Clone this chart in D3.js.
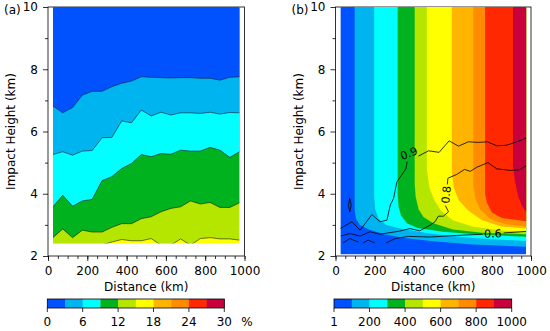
<!DOCTYPE html>
<html>
<head>
<meta charset="utf-8">
<script src="https://cdn.jsdelivr.net/npm/d3@7"></script>
<style>
body { margin: 0; background: #fff; }
text { font-family: "DejaVu Sans", sans-serif; fill: #000; }
</style>
</head>
<body>
<svg id="chart" width="550" height="331"></svg>
<script>
// Colour table shared by both panels (10 bins)
var binColors = ["#0052ff", "#00b4f0", "#00ffff", "#00b21e", "#b4e600",
                 "#ffff00", "#ffb400", "#ff8c00", "#ff2800", "#c8003c"];

// (a) percentage field: height (km) of each contour level at every distance column
var distances = [25, 75, 125, 175, 225, 275, 325, 375, 425, 475,
                 525, 575, 625, 675, 725, 775, 825, 875, 925, 975];
var pct3  = [6.82, 6.60, 6.77, 7.17, 7.29, 7.29, 7.44, 7.55, 7.62, 7.76, 7.74, 7.73, 7.72, 7.73, 7.73, 7.71, 7.71, 7.65, 7.74, 7.76];
var pct6  = [5.26, 5.35, 5.24, 5.37, 5.39, 5.80, 5.81, 6.34, 6.28, 6.69, 6.50, 6.62, 6.53, 6.60, 6.60, 6.58, 6.62, 6.56, 6.61, 6.60];
var pct9  = [3.58, 3.95, 3.60, 3.77, 3.82, 4.42, 4.55, 4.81, 4.97, 5.26, 5.19, 5.29, 5.27, 5.40, 5.37, 5.37, 5.49, 5.40, 5.17, 5.35];
var pct12 = [2.59, 2.87, 2.59, 2.83, 2.77, 2.77, 2.92, 3.04, 3.04, 3.20, 3.26, 3.42, 3.53, 3.58, 3.77, 3.67, 3.72, 3.56, 3.56, 3.71];
var pct15 = [2.35, 2.35, 2.35, 2.35, 2.35, 2.35, 2.45, 2.53, 2.49, 2.49, 2.56, 2.35, 2.35, 2.55, 2.35, 2.56, 2.59, 2.55, 2.55, 2.51];
var pctLevels = [0, 3, 6, 9, 12, 15, 18, 21, 24, 27, 30];
var pctTicks = [0, 6, 12, 18, 24, 30];

// (b) count field: contour of each level as [distance, height] points
var count100 = [[98, 10], [98, 3.5], [105, 3.2], [125, 3.0], [170, 2.85], [250, 2.7], [350, 2.58], [500, 2.47], [700, 2.37], [975, 2.3]];
var count200 = [[198, 10], [198, 3.9], [203, 3.5], [220, 3.2], [260, 3.0], [330, 2.88], [480, 2.72], [700, 2.58], [975, 2.48]];
var count300 = [[318, 10], [318, 4.0], [322, 3.6], [335, 3.3], [365, 3.05], [420, 2.9], [550, 2.78], [750, 2.68], [975, 2.62]];
var count400 = [[405, 10], [405, 4.3], [410, 3.9], [425, 3.5], [450, 3.25], [500, 3.05], [600, 2.85], [750, 2.75], [975, 2.7]];
var count500 = [[467, 10], [467, 4.8], [480, 4.2], [505, 3.8], [540, 3.45], [600, 3.15], [700, 2.95], [850, 2.82], [975, 2.78]];
var count600 = [[595, 10], [595, 4.7], [605, 4.2], [630, 3.8], [680, 3.45], [750, 3.15], [850, 2.95], [975, 2.88]];
var count700 = [[705, 10], [705, 4.3], [715, 3.85], [740, 3.5], [790, 3.2], [870, 3.02], [975, 2.95]];
var count800 = [[765, 10], [765, 4.0], [775, 3.7], [800, 3.4], [850, 3.22], [975, 3.12]];
var count900 = [[908, 10], [908, 4.9], [918, 4.4], [935, 3.9], [955, 3.6], [975, 3.42]];
var countLevels = [1, 100, 200, 300, 400, 500, 600, 700, 800, 900, 1000];
var countTicks = [1, 200, 400, 600, 800, 1000];

// (b) black correlation contours
var corr09a = [[24, 2.88], [84, 3.10], [126, 2.83], [186, 3.33], [228, 3.10], [263, 3.15], [280, 3.63], [297, 3.85], [314, 4.38], [361, 4.81], [366, 5.03]];
var corr09b = [[424, 5.21], [476, 5.38], [530, 5.33], [581, 5.70], [629, 5.53], [680, 5.67], [731, 5.65], [777, 5.67], [825, 5.54], [876, 5.56], [927, 5.67], [975, 5.78]];
var corr08a = [[572, 4.30], [575, 4.50], [620, 4.62], [660, 4.78], [690, 4.72], [722, 4.85], [780, 5.0], [825, 4.80], [895, 4.75], [940, 4.77], [975, 4.90]];
var corr08b = [[562, 3.62], [578, 3.42], [552, 3.28], [526, 3.28], [509, 3.10], [484, 2.99], [431, 2.81], [380, 2.88], [329, 2.80], [227, 2.70], [176, 2.78], [125, 2.64], [74, 2.72], [26, 2.64]];
var corr06a = [[259, 2.42], [305, 2.56], [373, 2.63], [484, 2.61], [620, 2.66], [752, 2.70]];
var corr06b = [[860, 2.74], [975, 2.79]];
var corrSmall = [
    [[73, 3.85], [80, 3.63], [73, 3.42], [66, 3.63], [73, 3.85]],
    [[39, 2.42], [73, 2.56], [116, 2.45]],
    [[141, 2.42], [167, 2.51], [201, 2.42]]
];
var corrLabels = [
    {text: "0.9", d: 375, h: 5.30, angle: -20},
    {text: "0.8", d: 566, h: 3.97, angle: -85},
    {text: "0.6", d: 805, h: 2.72, angle: -2}
];

var svg = d3.select("#chart");

// Draws frame, ticks and labels for one panel and returns its scales
function drawAxes(x0, x1, tag, id) {
    var x = d3.scaleLinear().domain([0, 1000]).range([x0, x1]);
    var y = d3.scaleLinear().domain([2, 10]).range([256, 7]);
    var g = svg.append("g");

    var minorX = g.append("g").attr("transform", "translate(0,256)")
        .call(d3.axisBottom(x).tickValues(d3.range(0, 1001, 50)).tickSize(3).tickSizeOuter(0).tickFormat(""));
    var majorX = g.append("g").attr("transform", "translate(0,256)")
        .call(d3.axisBottom(x).tickValues(d3.range(0, 1001, 200)).tickSize(5).tickSizeOuter(0)
            .tickPadding(5).tickFormat(d3.format("d")));
    var minorY = g.append("g").attr("transform", "translate(" + x0 + ",0)")
        .call(d3.axisLeft(y).tickValues([3, 5, 7, 9]).tickSize(3).tickSizeOuter(0).tickFormat(""));
    var majorY = g.append("g").attr("transform", "translate(" + x0 + ",0)")
        .call(d3.axisLeft(y).tickValues([2, 4, 6, 8, 10]).tickSize(5).tickSizeOuter(0)
            .tickPadding(5).tickFormat(d3.format("d")));
    [minorX, majorX, minorY, majorY].forEach(function (a) {
        a.select(".domain").remove();
        a.selectAll("line").attr("stroke", "#000").attr("stroke-width", 0.8);
        a.selectAll("text").attr("font-size", "12px").attr("font-family", "DejaVu Sans, sans-serif").attr("fill", "#000");
    });

    g.append("rect")
        .attr("x", x0).attr("y", 7)
        .attr("width", x1 - x0).attr("height", 249)
        .attr("fill", "none").attr("stroke", "#000").attr("stroke-width", 0.8);

    g.append("text")
        .attr("x", (x0 + x1) / 2).attr("y", 291)
        .attr("text-anchor", "middle").attr("font-size", "12px")
        .text("Distance (km)");
    g.append("text")
        .attr("transform", "translate(" + (x0 - 33) + ",131.5) rotate(-90)")
        .attr("text-anchor", "middle").attr("font-size", "12px")
        .text("Impact Height (km)");
    g.append("text")
        .attr("x", x0 - 44).attr("y", 14)
        .attr("font-size", "12px")
        .text(tag);

    svg.append("clipPath").attr("id", id)
        .append("rect")
        .attr("x", x(25)).attr("width", x(975) - x(25))
        .attr("y", 7);
    return {x: x, y: y, g: g};
}

// Draws the discrete colour bar under a panel
function drawColorbar(cx0, cx1, levels, ticks, unit) {
    var c = d3.scaleLinear().domain([0, levels.length - 1]).range([cx0, cx1]);
    var g = svg.append("g");
    g.selectAll("rect.bin")
        .data(binColors)
        .enter().append("rect")
        .attr("class", "bin")
        .attr("x", function (d, i) { return c(i); })
        .attr("width", function (d, i) { return c(i + 1) - c(i) + 0.3; })
        .attr("y", 299).attr("height", 9)
        .attr("fill", function (d) { return d; });
    g.append("rect")
        .attr("x", cx0).attr("y", 299)
        .attr("width", cx1 - cx0).attr("height", 9)
        .attr("fill", "none").attr("stroke", "#000").attr("stroke-width", 0.8);
    var tickX = ticks.map(function (t) { return c(levels.indexOf(t)); });
    g.selectAll("line.cbt")
        .data(tickX)
        .enter().append("line")
        .attr("x1", function (d) { return d; }).attr("x2", function (d) { return d; })
        .attr("y1", 308).attr("y2", 312)
        .attr("stroke", "#000").attr("stroke-width", 0.8);
    g.selectAll("text.cbl")
        .data(ticks)
        .enter().append("text")
        .attr("x", function (d, i) { return tickX[i]; })
        .attr("y", 326)
        .attr("text-anchor", "middle").attr("font-size", "12px")
        .text(function (d) { return d; });
    if (unit) {
        g.append("text").attr("x", cx1 + 17).attr("y", 326)
            .attr("font-size", "12px").text(unit);
    }
}

// ---------- panel (a) ----------
var pa = drawAxes(48, 244.5, "(a)", "clipA");
d3.select("#clipA rect").attr("height", pa.y(2.4) - 7);
var fa = pa.g.append("g").attr("clip-path", "url(#clipA)");

// paint bins bottom-up, each band covers everything above its lower contour
var pctBounds = [pct15, pct12, pct9, pct6, pct3];
fa.append("rect")
    .attr("x", pa.x(25)).attr("y", pa.y(10))
    .attr("width", pa.x(975) - pa.x(25)).attr("height", pa.y(2.4) - pa.y(10))
    .attr("fill", binColors[5]);
pctBounds.forEach(function (b, k) {
    var area = d3.area()
        .x(function (d, i) { return pa.x(distances[i]); })
        .y0(pa.y(10))
        .y1(function (d) { return pa.y(d); });
    fa.append("path").datum(b).attr("d", area).attr("fill", binColors[4 - k]);
});
pctBounds.forEach(function (b) {
    var line = d3.line()
        .x(function (d, i) { return pa.x(distances[i]); })
        .y(function (d) { return pa.y(d); });
    fa.append("path").datum(b).attr("d", line)
        .attr("fill", "none").attr("stroke", "#1a1a2a").attr("stroke-width", 0.6);
});
drawColorbar(47.3, 224.3, pctLevels, pctTicks, "%");

// ---------- panel (b) ----------
var pb = drawAxes(335.5, 531, "(b)", "clipB");
d3.select("#clipB rect").attr("height", pb.y(2.05) - 7);
var fb = pb.g.append("g").attr("clip-path", "url(#clipB)");
var countBounds = [count100, count200, count300, count400, count500, count600, count700, count800, count900];
var ptLine = d3.line()
    .x(function (d) { return pb.x(d[0]); })
    .y(function (d) { return pb.y(d[1]); });

fb.append("rect")
    .attr("x", pb.x(25)).attr("y", pb.y(10))
    .attr("width", pb.x(975) - pb.x(25)).attr("height", pb.y(2.05) - pb.y(10))
    .attr("fill", binColors[0]);
countBounds.forEach(function (b, k) {
    var poly = b.concat([[1000, b[b.length - 1][1]], [1000, 10]]);
    fb.append("path").attr("d", ptLine(poly) + "Z").attr("fill", binColors[k + 1]);
});

var corrLines = [corr09a, corr09b, corr08a, corr08b, corr06a, corr06b].concat(corrSmall);
corrLines.forEach(function (c) {
    fb.append("path").datum(c).attr("d", ptLine)
        .attr("fill", "none").attr("stroke", "#000").attr("stroke-width", 0.8);
});
corrLabels.forEach(function (l) {
    pb.g.append("text")
        .attr("transform", "translate(" + pb.x(l.d) + "," + pb.y(l.h) + ") rotate(" + l.angle + ")")
        .attr("text-anchor", "middle").attr("dy", "0.35em")
        .attr("font-size", "11px")
        .text(l.text);
});
drawColorbar(334, 511.7, countLevels, countTicks, null);
</script>
</body>
</html>
